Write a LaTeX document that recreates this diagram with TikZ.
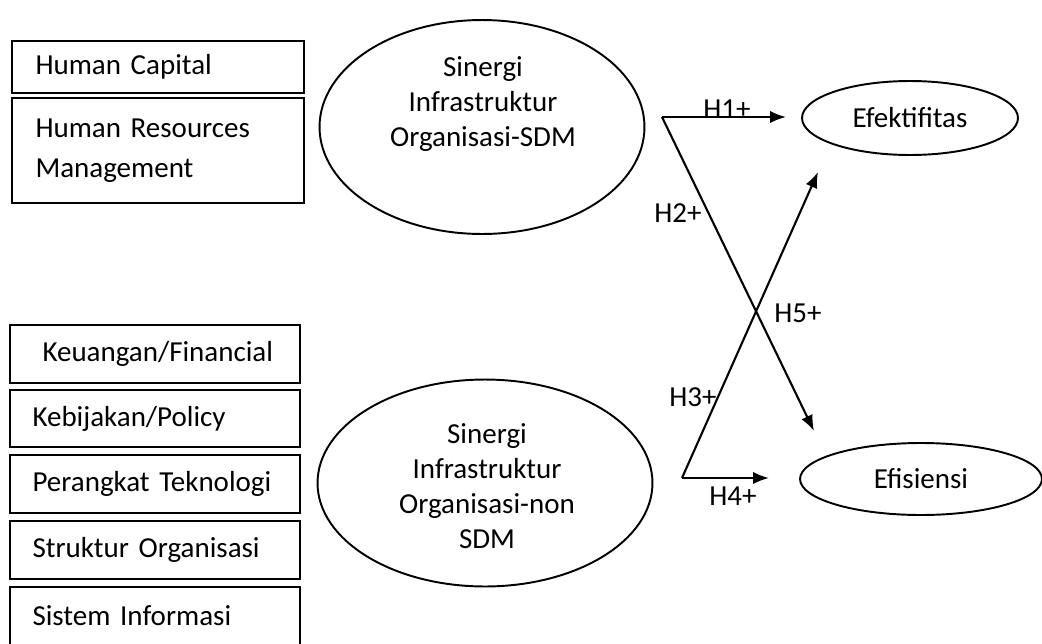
\documentclass[tikz,border=0pt]{standalone}
\usepackage{fontspec}
\setmainfont{Carlito}[WordSpace=0.85]
\usepackage{tikz}
\usetikzlibrary{arrows.meta, shapes.geometric}

\tikzset{
  factor/.style={draw, line width=1.3pt, minimum width=5.8cm, minimum height=1.15cm,
    text width=4.9cm, align=left, inner xsep=0.45cm, inner ysep=0pt},
  oval/.style={draw, ellipse, line width=1.1pt, inner sep=0pt},
  hyp/.style={-{Latex[length=9pt,width=7pt]}, line width=1.2pt},
}

\begin{document}
\begin{tikzpicture}[x=0.02cm, y=-0.02cm, font=\fontsize{16.5}{19.8}\selectfont]

  % --- Canvas (pixel grid of the original, y downwards) ---
  \clip (0,0) rectangle (1042,643);

  % --- Left boxes: human side ---
  \node[factor, minimum width=5.84cm, minimum height=1.04cm] (hc) at (158,67) {Human Capital};
  \node[factor, minimum width=5.84cm, minimum height=2.1cm,
    font=\fontsize{16.5}{22.8}\selectfont] (hrm) at (158,150.5) {Human Resources\\Management};

  % --- Left boxes: non-human side ---
  \node[factor] (fin) at (155,354) {\hspace{0.2cm}Keuangan/Financial};
  \node[factor] (pol) at (155,418.5) {Kebijakan/Policy};
  \node[factor] (tek) at (155,484) {Perangkat Teknologi};
  \node[factor] (str) at (155,550) {Struktur Organisasi};
  \node[factor] (si) at (155,616) {Sistem Informasi};

  % --- Synergy ellipses ---
  \node[oval, minimum width=6.5cm, minimum height=4.28cm] (sdm) at (482,127) {};
  \node[align=center] (sdmtxt) at (483,104) {Sinergi\\Infrastruktur\\Organisasi-SDM};
  \node[oval, minimum width=6.7cm, minimum height=4.14cm] (nonsdm) at (485,483) {};
  \node[align=center] (nonsdmtxt) at (487,486) {Sinergi\\Infrastruktur\\Organisasi-non\\SDM};

  % --- Outcome ellipses ---
  \node[oval, minimum width=4.32cm, minimum height=1.48cm] (efek) at (910,118) {Efektifitas};
  \node[oval, minimum width=4.84cm, minimum height=1.44cm] (efis) at (921,479) {Efisiensi};

  % --- Arrow corners and free ends ---
  \coordinate (c1) at (662,117);
  \coordinate (c2) at (682,478);
  \coordinate (e1) at (786,117);
  \coordinate (e2) at (814,431);
  \coordinate (e3) at (818,172);
  \coordinate (e4) at (769,478);

  % --- Hypotheses ---
  \draw[hyp] (c1) -- (e1);
  \draw[hyp] (c1) -- (e2);
  \draw[hyp] (c2) -- (e3);
  \draw[hyp] (c2) -- (e4);

  \node (h1) at (727,109) {H1+};
  \node (h2) at (678,213) {H2+};
  \node (h3) at (693,397) {H3+};
  \node (h4) at (733,496) {H4+};
  \node (h5) at (798,313) {H5+};

\end{tikzpicture}
\end{document}
